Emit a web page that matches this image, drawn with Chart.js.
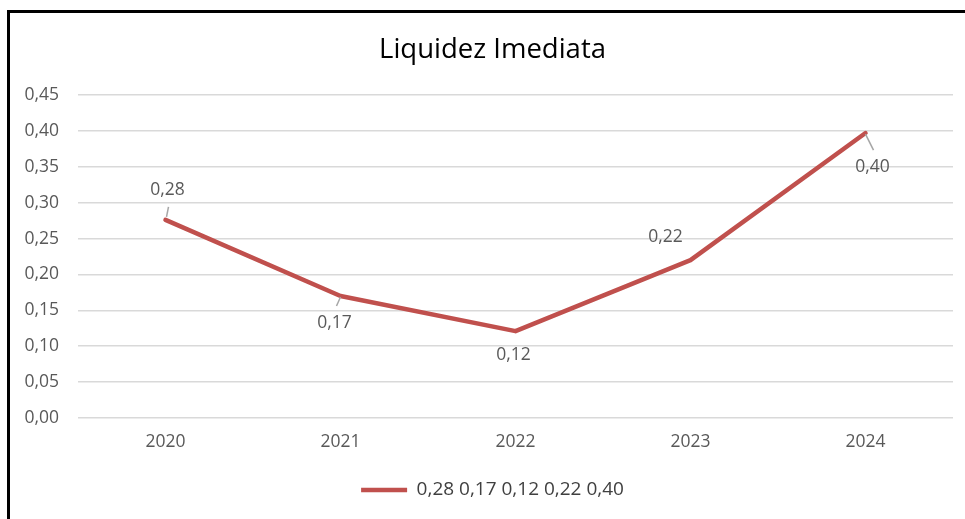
<!DOCTYPE html>
<html>
<head>
<meta charset="utf-8">
<script src="https://cdn.jsdelivr.net/npm/chart.js@4.4.1/dist/chart.umd.min.js"></script>
<style>
  html, body { margin: 0; padding: 0; background: #fff; overflow: hidden; }
  #wrap { position: relative; width: 965px; height: 519px; }
  #frame { position: absolute; left: 7px; top: 10px; width: 1000px; height: 600px; border: 3px solid #000; box-sizing: border-box; pointer-events: none; }
  canvas { position: absolute; left: 0; top: 0; }
</style>
</head>
<body>
<div id="wrap">
  <canvas id="c" width="965" height="519"></canvas>
  <div id="frame"></div>
</div>
<script>
const chartTitle = "Liquidez Imediata";
const categories = ["2020", "2021", "2022", "2023", "2024"];
const seriesName = "0,28 0,17 0,12 0,22 0,40";
const liquidez = [0.276, 0.170, 0.121, 0.220, 0.397];
const dataLabels = ["0,28", "0,17", "0,12", "0,22", "0,40"];
const yTicks = [0, 0.05, 0.10, 0.15, 0.20, 0.25, 0.30, 0.35, 0.40, 0.45];

const FONT = "'Open Sans', 'Noto Sans', sans-serif";
const GREY = "#595959";

// label placement relative to the point (style only), and leader lines
const labelStyle = [
  { dx: 2, dy: -30, leader: [[1, -3], [3, -13]] },
  { dx: -6, dy: 27, leader: [[0, 1], [-4, 10]] },
  { dx: -2, dy: 24, leader: null },
  { dx: -25, dy: -23, leader: null },
  { dx: 7, dy: 34, leader: [[0, 1], [8, 17]] }
];

const labelPlugin = {
  id: 'pointLabels',
  afterDatasetsDraw(chart) {
    const meta = chart.getDatasetMeta(0);
    const ctx = chart.ctx;
    ctx.save();
    meta.data.forEach((pt, i) => {
      const s = labelStyle[i];
      if (s.leader) {
        ctx.strokeStyle = "#A6A6A6";
        ctx.lineWidth = 1.5;
        ctx.beginPath();
        ctx.moveTo(pt.x + s.leader[0][0], pt.y + s.leader[0][1]);
        ctx.lineTo(pt.x + s.leader[1][0], pt.y + s.leader[1][1]);
        ctx.stroke();
      }
      ctx.fillStyle = GREY;
      ctx.font = "17.5px " + FONT;
      ctx.textAlign = "center";
      ctx.textBaseline = "middle";
      ctx.fillText(dataLabels[i], pt.x + s.dx, pt.y + s.dy);
    });
    ctx.restore();
  }
};

new Chart(document.getElementById('c'), {
  type: 'line',
  data: {
    labels: categories,
    datasets: [{
      label: seriesName,
      data: liquidez,
      borderColor: "#C0504D",
      backgroundColor: "#C0504D",
      borderWidth: 4.5,
      borderCapStyle: 'round',
      borderJoinStyle: 'round',
      pointRadius: 0,
      tension: 0,
      fill: false
    }]
  },
  options: {
    responsive: false,
    animation: false,
    devicePixelRatio: 1,
    layout: { padding: { left: 32, right: 12, top: 0, bottom: 9.5 } },
    plugins: {
      title: {
        display: true,
        text: chartTitle,
        color: "#000",
        font: { family: FONT, size: 27.5, weight: 'normal' },
        padding: { top: 34, bottom: 28 }
      },
      legend: {
        display: true,
        position: 'bottom',
        labels: {
          usePointStyle: true,
          pointStyle: 'line',
          pointStyleWidth: 46,
          color: "#404040",
          font: { family: FONT, size: 19 },
          padding: 10
        }
      },
      tooltip: { enabled: false }
    },
    scales: {
      x: {
        offset: true,
        grid: { display: false, drawTicks: false },
        border: { display: false },
        ticks: { color: GREY, font: { family: FONT, size: 17.5 }, padding: 14 },
        afterFit(scale) { scale.height = 52.5; }
      },
      y: {
        min: 0,
        max: 0.45,
        afterBuildTicks(scale) { scale.ticks = yTicks.map(v => ({ value: v })); },
        grid: { color: "#D9D9D9", lineWidth: 1.5, drawTicks: false },
        border: { display: false },
        ticks: {
          color: GREY,
          font: { family: FONT, size: 17.5 },
          padding: 19,
          callback: v => v.toFixed(2).replace('.', ',')
        },
        afterFit(scale) {
          scale.width = 46;
          scale._computeLabelArea = () => undefined; // let labels extend past the scale box
        }
      }
    }
  },
  plugins: [labelPlugin]
});
</script>
</body>
</html>
